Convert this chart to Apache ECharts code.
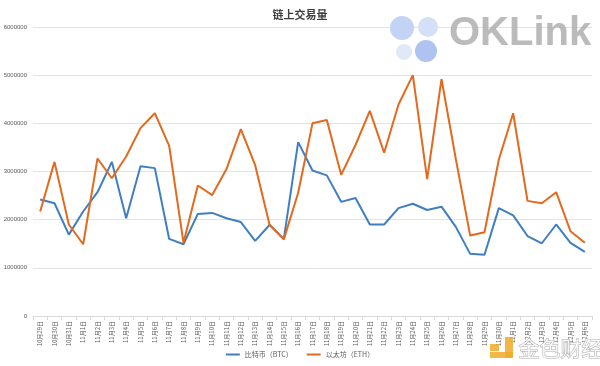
<!DOCTYPE html>
<html><head><meta charset="utf-8">
<script src="https://cdn.jsdelivr.net/npm/echarts@6/dist/echarts.min.js"></script>
<style>html,body{margin:0;padding:0;background:#fff}#c{width:600px;height:366px}</style>
</head><body><div id="c"></div>
<script>
const categories = ['10月29日','10月30日','10月31日',
 '11月1日','11月2日','11月3日','11月4日','11月5日','11月6日','11月7日','11月8日','11月9日','11月10日',
 '11月11日','11月12日','11月13日','11月14日','11月15日','11月16日','11月17日','11月18日','11月19日','11月20日',
 '11月21日','11月22日','11月23日','11月24日','11月25日','11月26日','11月27日','11月28日','11月29日','11月30日',
 '12月1日','12月2日','12月3日','12月4日','12月5日','12月6日'];
const btc = [2420000,2340000,1690000,2170000,2570000,3200000,2030000,3110000,3070000,1600000,1490000,2120000,2140000,
 2030000,1950000,1560000,1890000,1600000,3610000,3020000,2920000,2370000,2450000,1900000,1900000,2240000,2330000,
 2200000,2270000,1850000,1290000,1270000,2240000,2090000,1660000,1510000,1900000,1520000,1330000];
const eth = [2170000,3200000,1900000,1490000,3270000,2860000,3310000,3900000,4210000,3530000,1520000,2710000,2510000,
 3050000,3880000,3130000,1900000,1590000,2560000,4000000,4070000,2930000,3550000,4260000,3390000,4390000,5000000,
 2840000,4920000,3260000,1670000,1740000,3250000,4210000,2390000,2340000,2570000,1760000,1520000];
const yMin = 0, yMax = 6000000, yInterval = 1000000;
const seriesNames = ['比特币（BTC）','以太坊（ETH）'];

const chart = echarts.init(document.getElementById('c'));
chart.setOption({
  animation: false,
  title: { text: '链上交易量', left: 'center', top: 4,
    textStyle: { fontSize: 11, fontWeight: 'bold', color: '#404040', fontFamily: 'Noto Sans CJK SC' } },
  grid: { left: 33, right: 8, top: 27, bottom: 50, containLabel: false },
  legend: { bottom: 3, left: 'center', itemWidth: 14, itemHeight: 2, itemGap: 14, icon: 'rect',
    textStyle: { fontSize: 7, color: '#595959', fontFamily: 'Noto Sans CJK SC' },
    data: seriesNames },
  xAxis: { type: 'category', data: categories, boundaryGap: true,
    axisLine: { lineStyle: { color: '#d9d9d9' } },
    axisTick: { show: true, length: 4, lineStyle: { color: '#d9d9d9' } },
    axisLabel: { rotate: 90, fontSize: 6, color: '#595959', interval: 0, margin: 5, fontFamily: 'Noto Sans CJK SC' } },
  yAxis: { type: 'value', min: yMin, max: yMax, interval: yInterval,
    axisLine: { show: false }, axisTick: { show: false },
    axisLabel: { fontSize: 6, color: '#595959', margin: 6, formatter: v => String(v) },
    splitLine: { lineStyle: { color: '#e3e3e3', width: 1 } } },
  series: [
    { name: seriesNames[0], type: 'line', data: btc, symbol: 'none', lineStyle: { width: 2, color: '#3f7fc1' }, itemStyle: { color: '#3f7fc1' } },
    { name: seriesNames[1], type: 'line', data: eth, symbol: 'none', lineStyle: { width: 2, color: '#e2691d' }, itemStyle: { color: '#e2691d' } }
  ],
  graphic: [
    { type: 'circle', shape: { cx: 402, cy: 28, r: 12 }, style: { fill: '#c3d3f5' }, z: 100 },
    { type: 'circle', shape: { cx: 428, cy: 27, r: 10 }, style: { fill: '#d4e0f8' }, z: 100 },
    { type: 'circle', shape: { cx: 404, cy: 52, r: 8 }, style: { fill: '#e1e9f9' }, z: 100 },
    { type: 'circle', shape: { cx: 426, cy: 51, r: 11 }, style: { fill: '#aec3f1' }, z: 100 },
    { type: 'text', left: 449, top: 14, z: 100,
      style: { text: 'OKLink', fontSize: 40, fontWeight: 'bold', fill: 'rgba(170,170,170,0.8)', fontFamily: 'Liberation Sans' } },
    { type: 'rect', shape: { x: 490, y: 344, width: 9, height: 7 }, style: { fill: 'rgba(240,170,40,0.85)' }, z: 100 },
    { type: 'rect', shape: { x: 505, y: 337, width: 8, height: 21 }, style: { fill: 'rgba(240,170,40,0.85)' }, z: 100 },
    { type: 'rect', shape: { x: 490, y: 352, width: 23, height: 6 }, style: { fill: 'rgba(240,170,40,0.85)' }, z: 100 },
    { type: 'text', left: 518, top: 337, z: 100,
      style: { text: '金色财经', fontSize: 21, fill: 'rgba(255,255,255,0.85)', stroke: 'rgba(150,150,150,0.8)', lineWidth: 1, fontFamily: 'Noto Sans CJK SC' } }
  ]
});
</script></body></html>
